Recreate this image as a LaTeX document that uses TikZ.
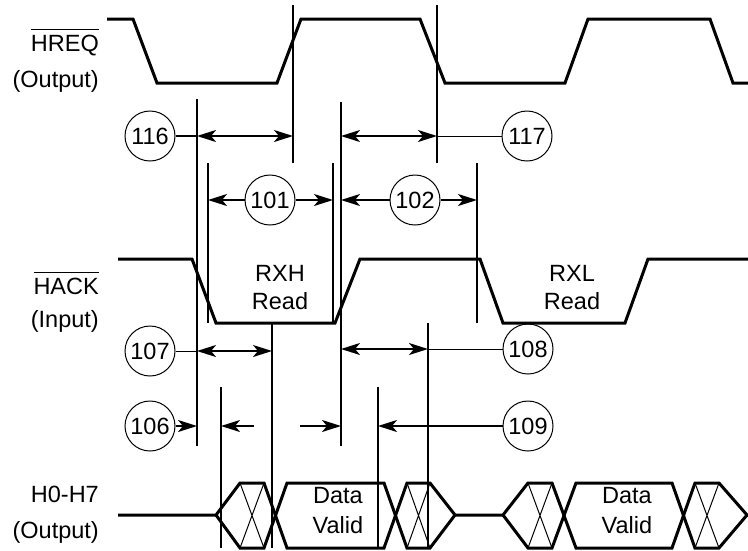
\documentclass[tikz,border=0pt]{standalone}
\usepackage{fontspec}
\setmainfont{Liberation Sans}
\usetikzlibrary{arrows.meta}
\begin{document}
\begin{tikzpicture}[
		x=1pt,
		y=-1pt,
		font=\fontsize{23.5}{27}\selectfont,
		>={Stealth[length=19pt,width=12pt,inset=5pt]}
	]
	\tikzset{
		sig/.style = {line width=3pt},
		tmark/.style = {line width=2pt},
		thinl/.style = {line width=1pt},
		num/.style = {circle, draw, line width=1pt, minimum size=50pt, inner sep=0pt},
		dim/.style = {line width=2pt, <->},
		pointer/.style = {line width=2pt, ->},
		lbl/.style = {anchor=base east, inner sep=0pt},
		txt/.style = {anchor=base, inner sep=0pt},
	}
		\useasboundingbox (0,0) rectangle (748,550);
		% signal names
		\node[lbl] at (99,51) (hreq) {$\overline{\mbox{\rule{0pt}{20pt}HREQ}}$};
		\node[lbl] at (99,87) (hreqdir) {(Output)};
		\node[lbl] at (99,294) (hack) {$\overline{\mbox{\rule{0pt}{20pt}HACK}}$};
		\node[lbl] at (99,327) (hackdir) {(Input)};
		\node[lbl] at (99,502) (hbus) {H0-H7};
		\node[lbl] at (99,538) (hbusdir) {(Output)};
		%
		\draw[sig] (107,19) -- (133,19) -- (157,83) -- (277,83) -- (301,19) -- (420,19)
			-- (445,83) -- (565,83) -- (588,19) -- (710,19) -- (733,83) -- (748,83);
		\draw[sig] (118,259) -- (192,259) -- (216,323) -- (335,323) -- (360,259) -- (480,259)
			-- (503,323) -- (625,323) -- (648,259) -- (748,259);
		\node[txt] at (280,281) (rxh) {RXH};
		\node[txt] at (280,309) (rxhrd) {Read};
		\node[txt] at (572,281) (rxl) {RXL};
		\node[txt] at (572,309) (rxlrd) {Read};
		%
		\draw[sig] (118,515) -- (216,515) -- (240,483) -- (264,483) -- (287,548) -- (384,548)
			-- (407,483) -- (430,483) -- (455,515) -- (503,515) -- (528,483) -- (552,483)
			-- (576,548) -- (672,548) -- (695,483) -- (719,483) -- (747,515) -- (748,515);
		\draw[sig] (216,515) -- (240,548) -- (264,548) -- (287,483) -- (384,483)
			-- (407,548) -- (430,548) -- (455,515);
		\draw[sig] (503,515) -- (528,548) -- (552,548) -- (576,483) -- (672,483)
			-- (695,548) -- (719,548) -- (747,515);
		\foreach \a/\b in {240/264, 407/430, 528/552, 695/719}
			\draw[thinl] (\a,483) -- (\b,548) (\b,483) -- (\a,548);
		\node[txt] at (338,503) (data1) {Data};
		\node[txt] at (338,533) (valid1) {Valid};
		\node[txt] at (627,503) (data2) {Data};
		\node[txt] at (627,533) (valid2) {Valid};
		% timing marks
		\foreach \x/\ya/\yb in {293/5/163, 437/5/163, 197/99/446, 341/102/446,
				208/163/323, 333/163/323, 477/163/323, 272/323/548, 428/323/548,
				221/387/548, 378/387/548}
			\draw[tmark] (\x,\ya) -- (\x,\yb);
		%
		\node[num] at (150,136) (n116) {116};
		\node[num] at (527,136) (n117) {117};
		\node[num] at (270,200) (n101) {101};
		\node[num] at (415,200) (n102) {102};
		\node[num] at (150,351) (n107) {107};
		\node[num] at (528,349) (n108) {108};
		\node[num] at (150,426) (n106) {106};
		\node[num] at (528,426) (n109) {109};
		%
		\coordinate (t116a) at (197,136);
		\coordinate (t116b) at (293,136);
		\coordinate (t117a) at (341,136);
		\coordinate (t117b) at (437,136);
		\coordinate (t101a) at (208,200);
		\coordinate (t101b) at (333,200);
		\coordinate (t102a) at (341,200);
		\coordinate (t102b) at (477,200);
		\coordinate (t107a) at (197,351);
		\coordinate (t107b) at (272,351);
		\coordinate (t108a) at (341,349);
		\coordinate (t108b) at (428,349);
		\coordinate (t106a) at (197,426);
		\coordinate (t106b) at (254,426);
		\coordinate (t106c) at (221,426);
		\coordinate (t106d) at (300,426);
		\coordinate (t106e) at (341,426);
		\coordinate (t109a) at (378,426);
		%
		\draw[tmark] (n116) -- (t116a);
		\draw[dim] (t116a) -- (t116b);
		\draw[dim] (t117a) -- (t117b);
		\draw[thinl] (t117b) -- (n117);
		\draw[pointer] (n101) -- (t101a);
		\draw[pointer] (n101) -- (t101b);
		\draw[pointer] (n102) -- (t102a);
		\draw[pointer] (n102) -- (t102b);
		\draw[thinl] (n107) -- (t107a);
		\draw[dim] (t107a) -- (t107b);
		\draw[dim] (t108a) -- (t108b);
		\draw[thinl] (t108b) -- (n108);
		\draw[pointer] (n106) -- (t106a);
		\draw[pointer] (t106b) -- (t106c);
		\draw[pointer] (t106d) -- (t106e);
		\draw[pointer] (n109) -- (t109a);
	\end{tikzpicture}
\end{document}
